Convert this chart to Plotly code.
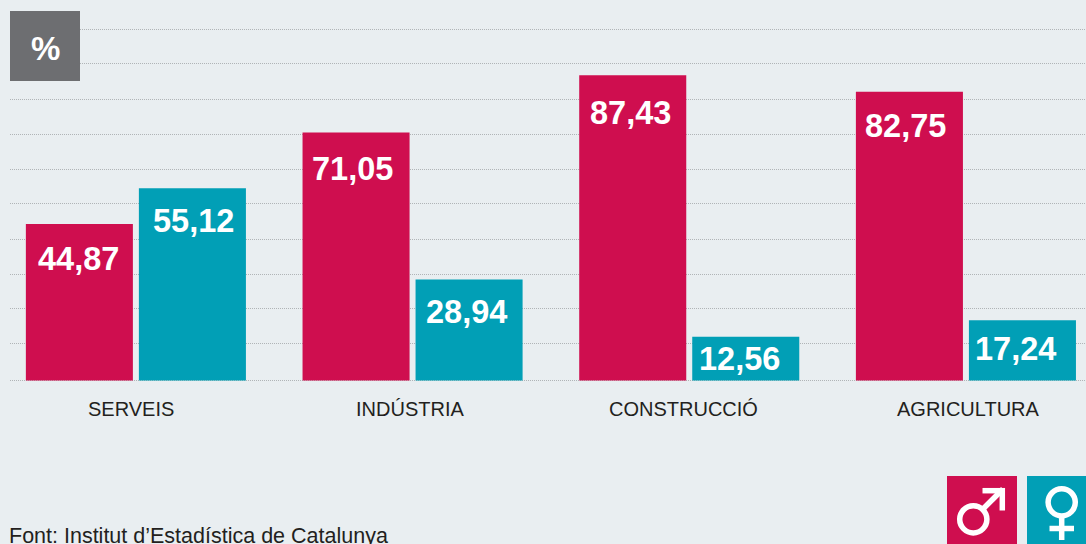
import plotly.graph_objects as go

categories = ["SERVEIS", "INDÚSTRIA", "CONSTRUCCIÓ", "AGRICULTURA"]
homes = [44.87, 71.05, 87.43, 82.75]
dones = [55.12, 28.94, 12.56, 17.24]
grid_values = [0.14, 10.5, 20.5, 30.5, 40.5, 50.6, 60.6, 70.6, 80.66, 90.7, 100.7]

RED, TEAL, GREY, BG = "#cf0e4f", "#019fb6", "#6d6e71", "#e9eef1"
W, H = 1086, 544
L, T, B = 10, 10, 150
ZERO_Y = 380.5
SCALE = 3.49
ymax = (ZERO_Y - T) / SCALE
ymin = -(H - B - ZERO_Y) / SCALE

def px(x): return (x - L) / (W - L)
def py(y): return 1 - (y - T) / (H - T - B)

fig = go.Figure()
fig.add_bar(x=categories, y=homes, marker_color=RED, marker_line_width=0)
fig.add_bar(x=categories, y=dones, marker_color=TEAL, marker_line_width=0)

def fmt(v): return f"{v:.2f}".replace(".", ",")
ann = []
m_off = [(-1, -35), (-3.5, -36), (-2, -38), (-3.5, -34)]
f_off = [(1, -33), (-3, -32), (-6.5, -22), (-6.5, -29)]
for c, hv, dv, mo, fo in zip(categories, homes, dones, m_off, f_off):
    for v, shift, o in ((hv, -56.5, mo), (dv, 56.5, fo)):
        ann.append(dict(x=c, y=v, xref="x", yref="y", text=f"<b>{fmt(v)}</b>", showarrow=False,
                        xshift=shift + o[0], yshift=o[1], yanchor="middle", xanchor="center",
                        font=dict(family="Liberation Sans", size=32.5, color="white")))
tick_shift = [-5, -2.5, -6, 2.5]
for c, s in zip(categories, tick_shift):
    ann.append(dict(x=c, y=py(409), xref="x", yref="paper", text=c, showarrow=False, xshift=s,
                    xanchor="center", yanchor="middle",
                    font=dict(family="Liberation Sans", size=20, color="#231f20")))
ann.append(dict(x=px(45), y=py(48), xref="paper", yref="paper", text="<b>%</b>", showarrow=False,
                xanchor="center", yanchor="middle",
                font=dict(family="Liberation Sans", size=33, color="white")))
ann.append(dict(x=px(10), y=py(535.5), xref="paper", yref="paper", text="Font: Institut d’Estadística de Catalunya",
                showarrow=False, xanchor="left", yanchor="middle", xshift=-3,
                font=dict(family="Liberation Sans", size=21.5, color="#231f20")))

def rect(x0, y0, x1, y1, c):
    return dict(type="rect", xref="paper", yref="paper", x0=px(x0), x1=px(x1), y0=py(y0), y1=py(y1),
                fillcolor=c, line_width=0, layer="above")
def circle(cx, cy, r):
    return dict(type="circle", xref="paper", yref="paper", x0=px(cx - r), x1=px(cx + r), y0=py(cy - r), y1=py(cy + r),
                fillcolor="rgba(0,0,0,0)", line=dict(color="white", width=5.5), layer="above")
def line(x0, y0, x1, y1):
    return dict(type="line", xref="paper", yref="paper", x0=px(x0), x1=px(x1), y0=py(y0), y1=py(y1),
                line=dict(color="white", width=5.5), layer="above")

shapes = [
    rect(10, 11, 80, 81, GREY),
    rect(947, 476, 1017, 544, RED),
    rect(1027, 476, 1086, 544, TEAL),
    circle(973.3, 519.3, 13.6),
    line(983, 509, 1003, 489),
    line(982.5, 490.7, 1005, 490.7),
    line(1002.3, 488, 1002.3, 510.5),
    circle(1061.7, 502.3, 13.6),
    line(1061.7, 518, 1061.7, 540),
    line(1049.5, 528.5, 1074, 528.5),
]

fig.update_layout(
    width=W, height=H, autosize=False, barmode="group", bargap=0.183, bargroupgap=0.053,
    showlegend=False, paper_bgcolor=BG, plot_bgcolor=BG,
    margin=dict(l=L, r=0, t=T, b=B, pad=0),
    annotations=ann, shapes=shapes,
    xaxis=dict(range=[-0.455, 3.434], showgrid=False, zeroline=False, showline=False, ticks="",
               showticklabels=False),
    yaxis=dict(range=[ymin, ymax], tickvals=grid_values, showticklabels=False, zeroline=False, showline=False,
               showgrid=True, gridcolor="#b0b4b7", griddash="1px,1px", gridwidth=1),
)
fig.write_html("out.html", config=dict(displayModeBar=False),
               post_script="document.body.style.margin='0';document.body.style.background='#e9eef1';document.documentElement.style.overflow='hidden';")
